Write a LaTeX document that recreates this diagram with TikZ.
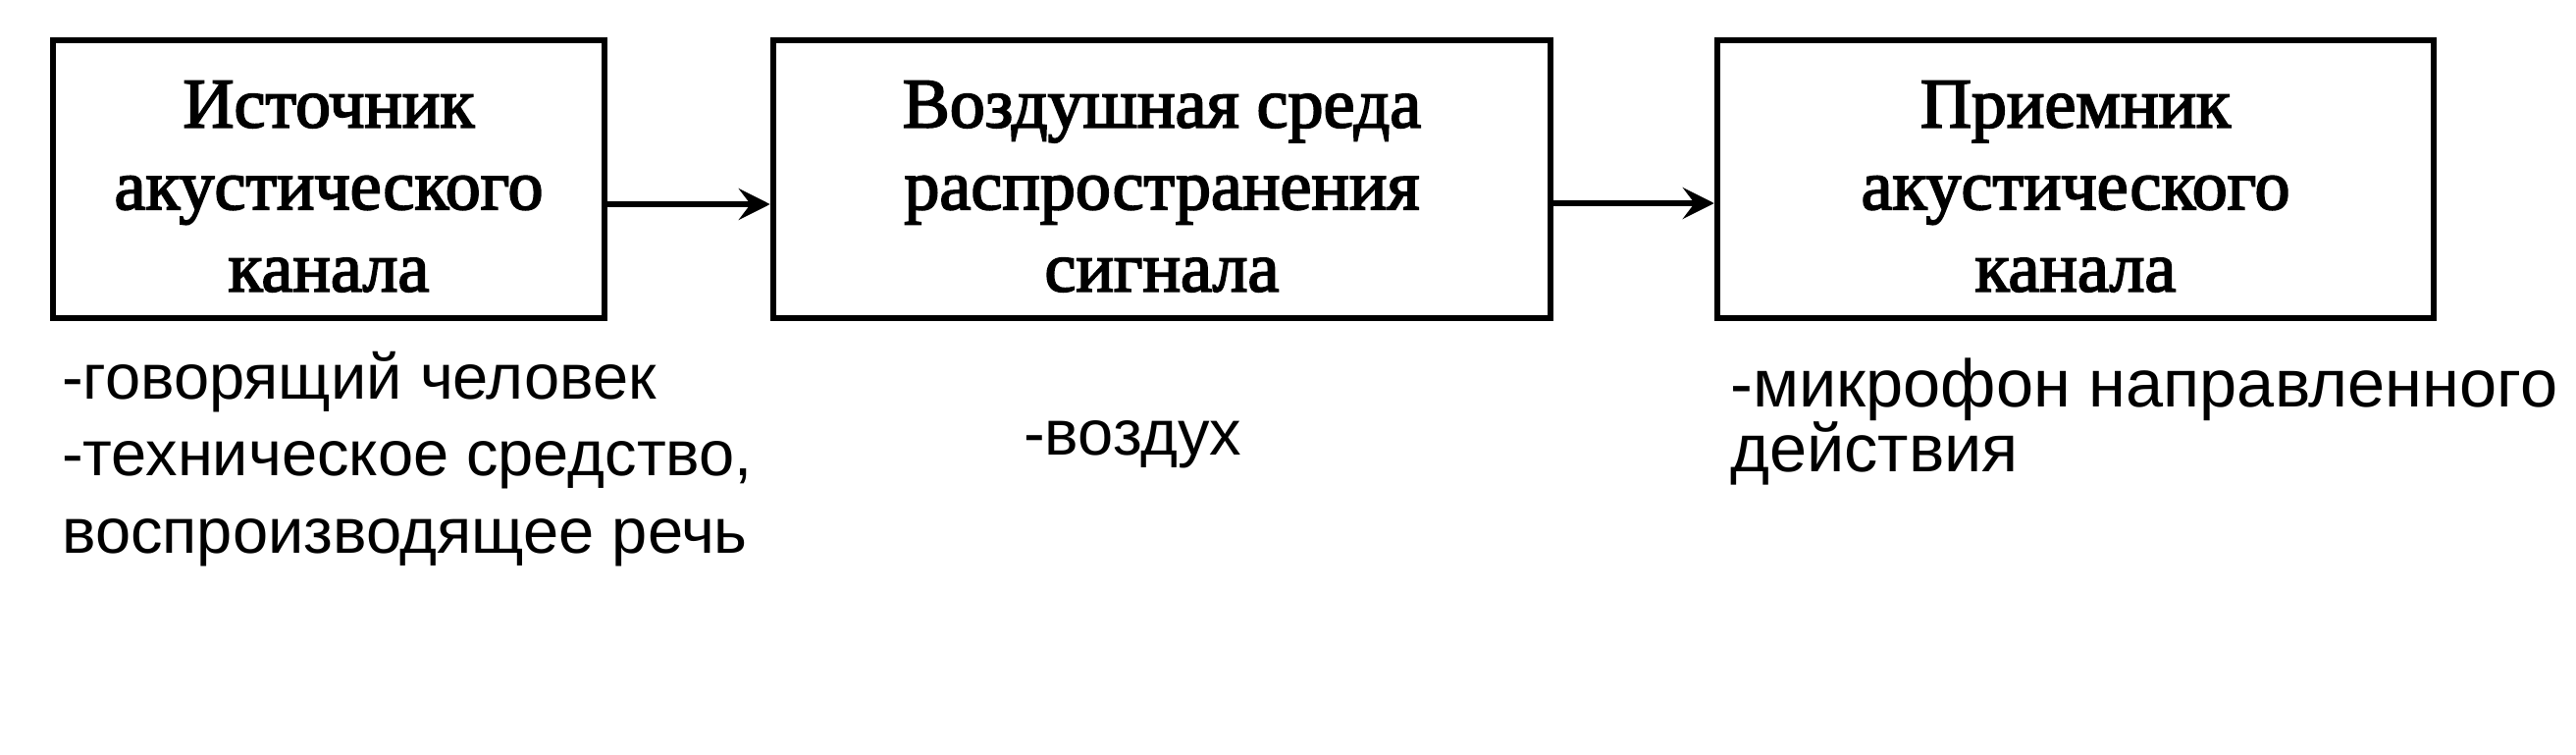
\documentclass[tikz,border=0pt]{standalone}
\usepackage{fontspec}
\setmainfont{Liberation Serif}
\newfontfamily\boxfont{Liberation Serif}[FakeBold=2.5]
\newfontfamily\labelfont{Liberation Sans}
\usetikzlibrary{arrows.meta}
\newcommand{\toppad}{\rule{0pt}{62pt}}
\tikzset{
  blockbox/.style={draw=black, line width=6.5pt, inner sep=0pt, align=center,
    font=\boxfont\fontsize{72}{83.5}\selectfont},
  connector/.style={line width=6.5pt, -{Stealth[length=32pt,width=32pt,inset=12pt]}},
  note/.style={anchor=base west, inner sep=0pt, font=\labelfont\fontsize{65}{78}\selectfont},
  rnote/.style={note, font=\labelfont\fontsize{68.5}{78}\selectfont}
}
\begin{document}
\begin{tikzpicture}[x=1pt, y=-1pt]
\useasboundingbox (0,0) rectangle (2625,768);
\node[blockbox, minimum width=562pt, minimum height=283pt] (src) at (335,182.5)
  {\toppad Источник\\акустического\\канала};
\node[blockbox, minimum width=792pt, minimum height=283pt] (air) at (1184,182.5)
  {\toppad Воздушная среда\\распространения\\сигнала};
\node[blockbox, minimum width=730pt, minimum height=283pt] (rcv) at (2115,182.5)
  {\toppad Приемник\\акустического\\канала};
\draw[connector] ([yshift=-25.5pt]src.east) -- ([yshift=-25.5pt]air.west);
\draw[connector] ([yshift=-24.5pt]air.east) -- ([yshift=-24.5pt]rcv.west);
\node[note] (s1) at (63,406) {-говорящий человек};
\node[note] (s2) at (63,484) {-техническое средство,};
\node[note] (s3) at (63,563) {воспроизводящее речь};
\node[note] (a1) at (1043,463) {-воздух};
\node[rnote] (r1) at (1763,414) {-микрофон направленного};
\node[rnote] (r2) at (1763,480) {действия};
\end{tikzpicture}
\end{document}
